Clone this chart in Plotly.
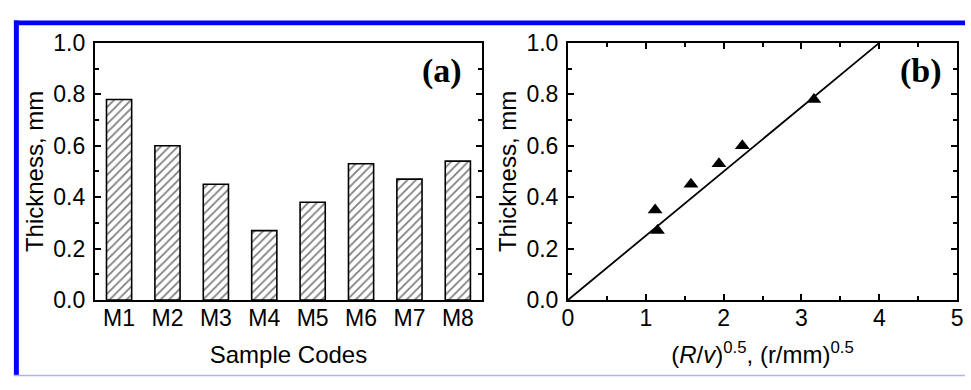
import plotly.graph_objects as go

W, H = 971, 390

# Data
sample_codes = ["M1", "M2", "M3", "M4", "M5", "M6", "M7", "M8"]
thickness_a = [0.78, 0.60, 0.45, 0.27, 0.38, 0.53, 0.47, 0.54]

rv_sqrt = [1.12, 1.15, 1.58, 1.94, 2.24, 3.16]
thickness_b = [0.35, 0.27, 0.45, 0.53, 0.60, 0.78]

fit_x = [0, 4]
fit_y = [0, 1.0]

def px(x):
    return x / W

def py(y):
    return 1 - y / H

FONT = "Liberation Sans, Arial, sans-serif"
SERIF = "Liberation Serif, Times New Roman, serif"

fig = go.Figure()

fig.add_trace(go.Bar(
    x=sample_codes, y=thickness_a, xaxis="x", yaxis="y",
    width=0.52,
    marker=dict(color="white",
                line=dict(color="black", width=1.6),
                pattern=dict(shape="/", fgcolor="black", bgcolor="white",
                             size=6, solidity=0.3)),
    showlegend=False,
))

fig.add_trace(go.Scatter(
    x=fit_x, y=fit_y, xaxis="x2", yaxis="y2", mode="lines",
    line=dict(color="black", width=1.8), showlegend=False,
))
fig.add_trace(go.Scatter(
    x=rv_sqrt, y=thickness_b, xaxis="x2", yaxis="y2", mode="markers",
    marker=dict(symbol="triangle-up", size=13, color="black"),
    showlegend=False,
))

ydom = [py(307.5), py(32)]
axis_common = dict(showline=True, linecolor="black", linewidth=2, mirror="allticks",
                   showgrid=False, zeroline=False,
                   tickfont=dict(family=FONT, size=23, color="black"))
title_font = dict(family=FONT, size=24, color="black")
yminor = dict(dtick=0.1, ticks="inside", ticklen=4, tickwidth=2, tickcolor="black")

fig.update_layout(
    width=W, height=H,
    margin=dict(l=0, r=0, t=0, b=0),
    paper_bgcolor="white", plot_bgcolor="white",
    xaxis=dict(domain=[px(90), px(482)], anchor="y", type="category",
               range=[-0.5, 7.5], ticks="", ticklabelstandoff=-4,
               title=dict(text="Sample Codes", font=title_font, standoff=17),
               **axis_common),
    yaxis=dict(domain=ydom, anchor="x", range=[0, 1.0], dtick=0.2, tickformat=".1f",
               ticks="inside", ticklen=6, tickwidth=2, tickcolor="black",
               ticklabelstandoff=3, minor=yminor,
               title=dict(text="Thickness, mm", font=title_font, standoff=3),
               **axis_common),
    xaxis2=dict(domain=[px(569), px(963)], anchor="y2", range=[0, 5], dtick=1,
                ticks="inside", ticklen=6, tickwidth=2, tickcolor="black",
                minor=dict(dtick=0.5, ticks="inside", ticklen=4, tickwidth=2, tickcolor="black"),
                ticklabeloverflow="allow", ticklabelstandoff=-4,
                title=dict(text="(<i>R</i>/<i>v</i>)<sup>0.5</sup>, (r/mm)<sup>0.5</sup>",
                           font=title_font, standoff=17),
                **axis_common),
    yaxis2=dict(domain=ydom, anchor="x2", range=[0, 1.0], dtick=0.2, tickformat=".1f",
                ticks="inside", ticklen=6, tickwidth=2, tickcolor="black",
                ticklabelstandoff=3, minor=yminor,
                title=dict(text="Thickness, mm", font=title_font, standoff=3),
                **axis_common),
    annotations=[
        dict(text="<b>(a)</b>", x=px(441), y=py(62), xref="paper", yref="paper",
             xanchor="center", yanchor="middle",
             showarrow=False, font=dict(family=SERIF, size=34, color="black")),
        dict(text="<b>(b)</b>", x=px(926), y=py(62), xref="paper", yref="paper",
             xanchor="center", yanchor="middle",
             showarrow=False, font=dict(family=SERIF, size=34, color="black")),
    ],
    shapes=[
        dict(type="rect", xref="paper", yref="paper", x0=px(8), x1=1.0, y0=py(13), y1=py(8),
             fillcolor="#0000FF", line=dict(width=0), layer="above"),
        dict(type="rect", xref="paper", yref="paper", x0=px(8), x1=px(13), y0=py(389), y1=py(8),
             fillcolor="#0000FF", line=dict(width=0), layer="above"),
        dict(type="line", xref="paper", yref="paper", x0=px(8), x1=1.0, y0=py(388.5), y1=py(388.5),
             line=dict(color="#B0B0FF", width=1.5), layer="above"),
    ],
)

# Remove the browser's default 8px page margin so the figure fills the window exactly.
fig.write_html("out.html", config={"displayModeBar": False},
               post_script="document.body.style.margin='0';document.body.style.overflow='hidden';")
